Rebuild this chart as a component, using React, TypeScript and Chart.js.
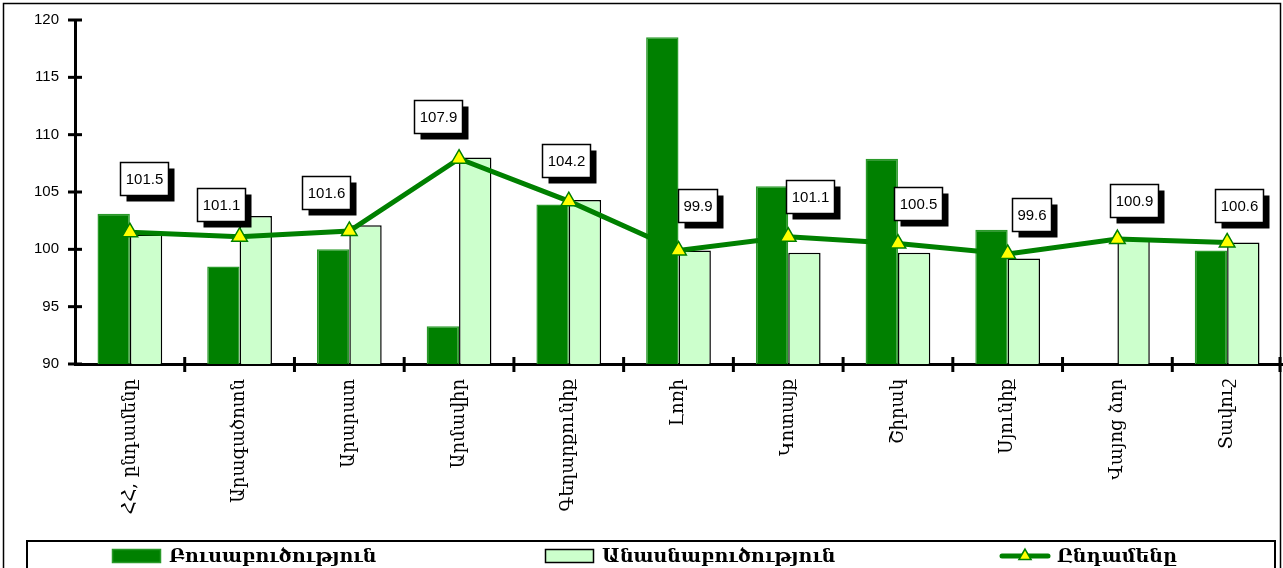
import React, { useEffect, useRef } from "react";
import { Chart, registerables } from "chart.js";

Chart.register(...registerables);

// ---- data ----
const categories = [
  "ՀՀ, ընդամենը",
  "Արագածոտն",
  "Արարատ",
  "Արմավիր",
  "Գեղարքունիք",
  "Լոռի",
  "Կոտայք",
  "Շիրակ",
  "Սյունիք",
  "Վայոց ձոր",
  "Տավուշ",
];
const cropValues = [103.1, 98.5, 100.0, 93.3, 103.9, 118.5, 105.5, 107.9, 101.7, null, 99.9];
const livestockValues = [101.3, 102.9, 102.1, 108.0, 104.3, 99.9, 99.7, 99.7, 99.2, 100.9, 100.6];
const totalValues = [101.5, 101.1, 101.6, 107.9, 104.2, 99.9, 101.1, 100.5, 99.6, 100.9, 100.6];
const seriesNames = ["Բուսաբուծություն", "Անասնաբուծություն", "Ընդամենը"];
const yMin = 90;
const yMax = 120;
const yStep = 5;

// ---- label placement (style: offsets of the value boxes relative to their point) ----
const labelShiftX = [14, -19, -23, -21, -3, 19, 22, 20, 24, 17, 12];
const labelGap = [37, 16, 22, 26, 24, 28, 24, 24, 23, 22, 20];

const DARK = "#008000";
const DARK_EDGE = "#2a9a2a";
const LIGHT = "#ccffcc";

function drawTriangle(ctx: CanvasRenderingContext2D, x: number, y: number, r: number) {
  ctx.beginPath();
  let rad = 0;
  ctx.moveTo(x + Math.sin(rad) * r, y - Math.cos(rad) * r);
  rad += (2 * Math.PI) / 3;
  ctx.lineTo(x + Math.sin(rad) * r, y - Math.cos(rad) * r);
  rad += (2 * Math.PI) / 3;
  ctx.lineTo(x + Math.sin(rad) * r, y - Math.cos(rad) * r);
  ctx.closePath();
  ctx.fillStyle = "#ffff00";
  ctx.fill();
  ctx.strokeStyle = DARK;
  ctx.lineWidth = 1.5;
  ctx.stroke();
}

const decorPlugin = {
  id: "decor",
  beforeDraw(chart: any) {
    const ctx = chart.ctx as CanvasRenderingContext2D;
    ctx.save();
    ctx.fillStyle = "#fff";
    ctx.fillRect(0, 0, chart.width, chart.height);
    ctx.strokeStyle = "#000";
    ctx.lineWidth = 1.5;
    ctx.strokeRect(3.5, 3.5, chart.width - 6, chart.height + 20);
    ctx.restore();
  },
  afterDatasetsDraw(chart: any) {
    const ctx = chart.ctx as CanvasRenderingContext2D;
    const x = chart.scales.x;
    const y = chart.scales.y;
    ctx.save();
    // crossing tick marks
    ctx.strokeStyle = "#000";
    ctx.lineWidth = 3;
    y.ticks.forEach((_t: any, i: number) => {
      const py = y.getPixelForTick(i);
      ctx.beginPath();
      ctx.moveTo(x.left - 7, py);
      ctx.lineTo(x.left + 7, py);
      ctx.stroke();
    });
    const n = chart.data.labels.length;
    const w = (x.right - x.left) / n;
    for (let i = 1; i <= n; i++) {
      const px = Math.min(x.left + i * w, chart.width - 3);
      ctx.beginPath();
      ctx.moveTo(px, y.bottom - 7);
      ctx.lineTo(px, y.bottom + 8);
      ctx.stroke();
    }

    // value boxes
    const meta = chart.getDatasetMeta(2);
    const data = chart.data.datasets[2].data;
    ctx.font = '15px "Liberation Sans", Arial, sans-serif';
    ctx.textAlign = "center";
    ctx.textBaseline = "middle";
    meta.data.forEach((pt: any, i: number) => {
      const txt = Number(data[i]).toFixed(1);
      const tw = ctx.measureText(txt).width;
      const bw = Math.round(tw + 10);
      const bh = 33;
      const cx = pt.x + labelShiftX[i];
      const bottom = pt.y - labelGap[i];
      const left = Math.round(cx - bw / 2) + 0.5;
      const top = Math.round(bottom - bh) + 0.5;
      ctx.fillStyle = "#000";
      ctx.fillRect(left + 6, top + 6, bw, bh);
      ctx.fillStyle = "#fff";
      ctx.fillRect(left, top, bw, bh);
      ctx.strokeStyle = "#000";
      ctx.lineWidth = 1.5;
      ctx.strokeRect(left, top, bw, bh);
      ctx.fillStyle = "#000";
      ctx.fillText(txt, left + bw / 2, top + bh / 2 + 1);
    });
    ctx.restore();
  },
  afterDraw(chart: any) {
    const ctx = chart.ctx as CanvasRenderingContext2D;
    ctx.save();
    // legend frame
    ctx.strokeStyle = "#000";
    ctx.lineWidth = 2;
    ctx.strokeRect(27, 541, 1248, 60);
    const itemX = [112, 545, 1000];
    const ds = chart.data.datasets;
    ctx.font = 'bold 19px "DejaVu Serif", serif';
    ctx.textAlign = "left";
    ctx.textBaseline = "middle";
    ds.forEach((d: any, i: number) => {
      const sx = itemX[i];
      const sy = 556;
      if (d.type === "line") {
        ctx.strokeStyle = d.borderColor;
        ctx.lineWidth = 5;
        ctx.lineCap = "round";
        ctx.beginPath();
        ctx.moveTo(sx + 2, sy);
        ctx.lineTo(sx + 48, sy);
        ctx.stroke();
        ctx.lineCap = "butt";
        drawTriangle(ctx, sx + 25, sy, 7);
      } else {
        ctx.fillStyle = d.backgroundColor;
        ctx.fillRect(sx, sy - 7, 49, 14);
        ctx.strokeStyle = d.borderColor;
        ctx.lineWidth = 1.5;
        ctx.strokeRect(sx + 0.5, sy - 6.5, 48, 13);
      }
      ctx.fillStyle = "#000";
      ctx.fillText(d.label, sx + 57, sy + 1);
    });
    ctx.restore();
  },
};

export default function App() {
  const ref = useRef<HTMLCanvasElement>(null);

  useEffect(() => {
    if (!ref.current) return;
    const chart = new Chart(ref.current, {
      type: "bar",
      data: {
        labels: categories,
        datasets: [
          {
            type: "bar",
            label: seriesNames[0],
            data: cropValues as any,
            backgroundColor: DARK,
            borderColor: DARK_EDGE,
            borderWidth: 1.5,
            categoryPercentage: 0.59,
            barPercentage: 1,
            order: 1,
          },
          {
            type: "bar",
            label: seriesNames[1],
            data: livestockValues,
            backgroundColor: LIGHT,
            borderColor: "#000",
            borderWidth: 1.5,
            categoryPercentage: 0.59,
            barPercentage: 1,
            order: 1,
          },
          {
            type: "line",
            label: seriesNames[2],
            data: totalValues,
            borderColor: DARK,
            borderWidth: 5,
            pointStyle: "triangle",
            pointRadius: 9,
            pointBackgroundColor: "#ffff00",
            pointBorderColor: DARK,
            pointBorderWidth: 1.5,
            tension: 0,
            order: 0,
          } as any,
        ],
      },
      options: {
        animation: false,
        responsive: true,
        maintainAspectRatio: false,
        layout: { autoPadding: false, padding: { left: 0, right: 1, top: 20, bottom: 0 } },
        plugins: {
          legend: { display: false },
          tooltip: { enabled: false },
        },
        scales: {
          x: {
            type: "category",
            offset: true,
            grid: {
              display: true,
              drawOnChartArea: false,
              drawTicks: true,
              tickLength: 15,
              tickColor: "rgba(0,0,0,0)",
              offset: true,
            },
            border: { display: true, color: "#000", width: 3 },
            ticks: {
              autoSkip: false,
              minRotation: 90,
              maxRotation: 90,
              padding: 0,
              color: "#000",
              font: { family: '"DejaVu Serif", serif', size: 18 },
            },
            afterFit: (s: any) => {
              s.height = 204;
            },
          },
          y: {
            min: yMin,
            max: yMax,
            grid: {
              display: true,
              drawOnChartArea: false,
              drawTicks: true,
              tickLength: 16,
              tickColor: "rgba(0,0,0,0)",
            },
            border: { display: true, color: "#000", width: 3 },
            ticks: {
              stepSize: yStep,
              padding: 0,
              color: "#000",
              font: { family: '"Liberation Sans", Arial, sans-serif', size: 15 },
            },
            afterFit: (s: any) => {
              s.width = 75;
            },
          },
        },
      } as any,
      plugins: [decorPlugin],
    });
    return () => chart.destroy();
  }, []);

  return (
    <div
      style={{
        position: "absolute",
        left: 0,
        top: 0,
        width: 1283,
        height: 568,
        background: "#fff",
      }}
    >
      <canvas ref={ref} />
    </div>
  );
}
